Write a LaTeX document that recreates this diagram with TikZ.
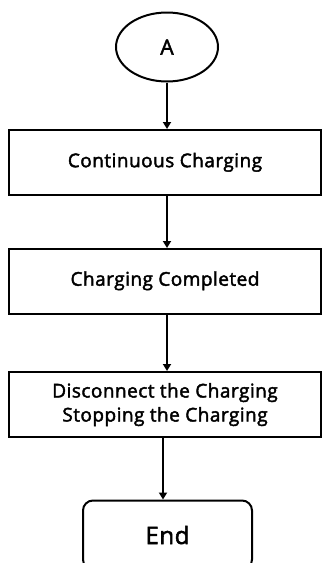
\documentclass[tikz,border=0pt]{standalone}
\usepackage{fontspec}
\setmainfont{Open Sans}[FakeBold=2.2, LetterSpace=2.5]
\usetikzlibrary{arrows.meta, shapes.geometric}

\tikzset{
  flow/.style={draw=black, line width=2pt},
  stepbox/.style={flow, rectangle, minimum width=312pt, minimum height=65pt, inner sep=0pt, align=center, font=\fontsize{19}{25}\selectfont},
  link/.style={line width=2pt, -{Triangle[length=7pt,width=8pt]}}
}

\begin{document}
\begin{tikzpicture}[x=1pt, y=-1pt]
\useasboundingbox (0,0) rectangle (323,563);

% connector circle and end terminal
\node[flow, ellipse, minimum width=102pt, minimum height=69pt, font=\fontsize{21}{22}\selectfont] (A) at (167,47) {A};
\node[flow, rectangle, rounded corners=10pt, minimum width=169pt, minimum height=69pt, font=\fontsize{24}{25}\selectfont] (End) at (167.5,535) {End};

% process steps
\node[stepbox] (cont) at (165,162.5) {\raisebox{5pt}{Continuous Charging}};
\node[stepbox] (done) at (165,281.5) {\raisebox{6pt}{Charging Completed}};
\node[stepbox] (stop) at (165,404.5) {\raisebox{4pt}{\begin{tabular}{@{}c@{}}Disconnect the Charging\\[-1pt] Stopping the Charging\end{tabular}}};

\coordinate (low) at (163,0);
\draw[link] (A) -- (A |- cont.north);
\draw[link] (cont.south -| A) -- (done.north -| A);
\draw[link] (done.south -| A) -- (stop.north -| A);
\draw[link] (stop.south -| low) -- (End.north -| low);

\end{tikzpicture}
\end{document}
